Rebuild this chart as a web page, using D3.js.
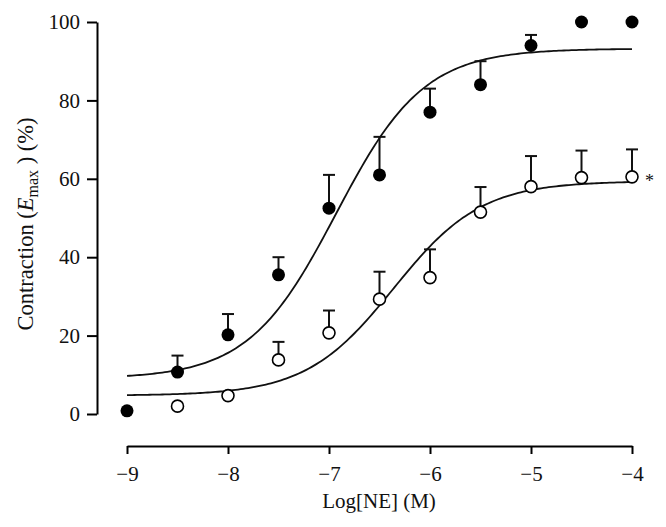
<!DOCTYPE html>
<html>
<head>
<meta charset="utf-8">
<script src="https://cdn.jsdelivr.net/npm/d3@7"></script>
<style>
  body { margin: 0; background: #fff; }
  text { font-family: "Liberation Serif", "DejaVu Serif", serif; fill: #111; }
</style>
</head>
<body>
<svg id="chart"></svg>
<script>
// log concentrations
const logNE = [-9, -8.5, -8, -7.5, -7, -6.5, -6, -5.5, -5, -4.5, -4];

// filled circles (control)
const controlMean = [0.8, 10.7, 20.2, 35.5, 52.5, 61, 77, 84, 94, 100, 100];
const controlErr  = [0, 4.2, 5.3, 4.5, 8.5, 9.7, 6, 6, 2.7, 0, 0];

// open circles
const treatedMean = [null, 2, 4.7, 13.8, 20.7, 29.3, 34.8, 51.5, 58, 60.3, 60.5];
const treatedErr  = [0, 0, 0, 4.6, 5.7, 7, 7.2, 6.4, 7.8, 6.9, 7];

// fitted sigmoid parameters: bottom, top, logEC50, hill slope
const controlFit = {bottom: 9.0, top: 93.2, logEC50: -6.93, hill: 1};
const treatedFit = {bottom: 4.7, top: 59.4, logEC50: -6.36, hill: 1};

const xTicks = [-9, -8, -7, -6, -5, -4];
const yTicks = [0, 20, 40, 60, 80, 100];

const width = 666, height = 527;

const x = d3.scaleLinear().domain([-9, -4]).range([127, 632]);
const y = d3.scaleLinear().domain([0, 100]).range([414, 22]);

const svg = d3.select('#chart')
    .attr('width', width)
    .attr('height', height);

// y axis
const yAxis = svg.append('g')
    .attr('transform', 'translate(97,0)')
    .call(d3.axisLeft(y).tickValues(yTicks).tickSize(10).tickSizeOuter(0).tickPadding(7));
yAxis.select('.domain').attr('stroke-width', 2);
yAxis.selectAll('.tick line').attr('stroke-width', 2);
yAxis.selectAll('.tick text').attr('font-size', 21).attr('font-family', '"Liberation Serif", serif').attr('fill', '#111');

// x axis
const xAxis = svg.append('g')
    .attr('transform', 'translate(0,446)')
    .call(d3.axisBottom(x).tickValues(xTicks).tickSize(8).tickSizeOuter(0).tickPadding(12)
        .tickFormat(d => '\u2212' + Math.abs(d)));
xAxis.select('.domain').attr('stroke-width', 2);
xAxis.selectAll('.tick line').attr('stroke-width', 2);
xAxis.selectAll('.tick text').attr('font-size', 21).attr('font-family', '"Liberation Serif", serif').attr('fill', '#111');

// axis titles
svg.append('text')
    .attr('x', 379).attr('y', 508)
    .attr('text-anchor', 'middle')
    .attr('font-size', 21)
    .text('Log[NE] (M)');

const yl = svg.append('text')
    .attr('transform', 'translate(33,224) rotate(-90)')
    .attr('text-anchor', 'middle')
    .attr('font-size', 22.5);
yl.append('tspan').text('Contraction (');
yl.append('tspan').attr('font-style', 'italic').text('E');
yl.append('tspan').attr('font-size', 16).attr('dy', 5).text('max');
yl.append('tspan').attr('dy', -5).text(' ) (%)');

// fitted curves
const hill = p => v => p.bottom + (p.top - p.bottom) / (1 + Math.pow(10, (p.logEC50 - v) * p.hill));
const xs = d3.range(0, 201).map(i => -9 + i * 5 / 200);
const line = d3.line().x(d => x(d[0])).y(d => y(d[1]));

[controlFit, treatedFit].forEach(p => {
    const f = hill(p);
    svg.append('path')
        .datum(xs.map(v => [v, f(v)]))
        .attr('fill', 'none')
        .attr('stroke', '#111')
        .attr('stroke-width', 1.8)
        .attr('d', line);
});

// error bars + points
function drawSeries(means, errs, filled) {
    const data = logNE.map((v, i) => ({x: v, m: means[i], e: errs[i]})).filter(d => d.m !== null);
    const g = svg.append('g');
    data.filter(d => d.e > 0).forEach(d => {
        g.append('line')
            .attr('x1', x(d.x)).attr('x2', x(d.x))
            .attr('y1', y(d.m)).attr('y2', y(d.m + d.e))
            .attr('stroke', '#111').attr('stroke-width', 2);
        g.append('line')
            .attr('x1', x(d.x) - 6).attr('x2', x(d.x) + 6)
            .attr('y1', y(d.m + d.e)).attr('y2', y(d.m + d.e))
            .attr('stroke', '#111').attr('stroke-width', 2);
    });
    g.selectAll('circle')
        .data(data)
        .join('circle')
        .attr('cx', d => x(d.x))
        .attr('cy', d => y(d.m))
        .attr('r', filled ? 6.5 : 6)
        .attr('fill', filled ? '#000' : '#fff')
        .attr('stroke', '#000')
        .attr('stroke-width', filled ? 0 : 1.6);
}
drawSeries(controlMean, controlErr, true);
drawSeries(treatedMean, treatedErr, false);

// significance mark
svg.append('text')
    .attr('x', x(-4) + 13).attr('y', y(60.5) + 10)
    .attr('font-size', 18)
    .text('*');
</script>
</body>
</html>
